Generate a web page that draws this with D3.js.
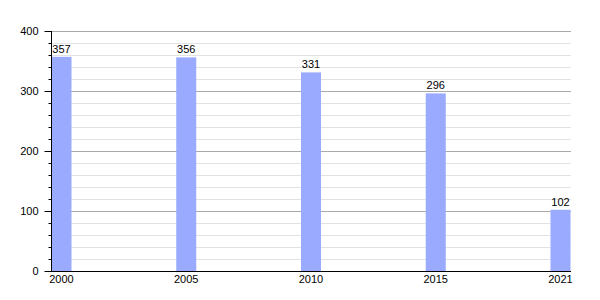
<!DOCTYPE html>
<html><head><meta charset="utf-8">
<script src="https://cdn.jsdelivr.net/npm/d3@7"></script>
<style>body{margin:0;background:#fff}svg{display:block}</style>
</head><body>
<svg id="c" width="600" height="300"></svg>
<script>
const years = ["2000","2005","2010","2015","2021"];
const values = [357,356,331,296,102];
const yTicks = [0,100,200,300,400];
const minorTicks = d3.range(0,401,20);

(function(){
const svg = d3.select("#c");
const font = "Liberation Sans, Arial, sans-serif";
const pl = 51, pr = 571, pt = 31, pb = 271;
const y = d3.scaleLinear().domain([0,400]).range([pb, pt]);
const x = d3.scalePoint().domain(years).range([61.5, 560.5]);
const bw = 20;

// minor gridlines
svg.append("g").selectAll("line").data(minorTicks.filter(d=>d%100!==0)).join("line")
  .attr("x1", pl).attr("x2", pr)
  .attr("y1", d=>Math.round(y(d))+0.5).attr("y2", d=>Math.round(y(d))+0.5)
  .attr("stroke", "#e2e2e2").attr("stroke-width",1);
// major gridlines
svg.append("g").selectAll("line").data(yTicks.filter(d=>d>0)).join("line")
  .attr("x1", pl).attr("x2", pr)
  .attr("y1", d=>Math.round(y(d))+0.5).attr("y2", d=>Math.round(y(d))+0.5)
  .attr("stroke", "#aaaaaa").attr("stroke-width",1);

// bars
svg.append("g").selectAll("rect").data(values).join("rect")
  .attr("x", (d,i)=>x(years[i]) - bw/2)
  .attr("y", d=>y(d))
  .attr("width", bw)
  .attr("height", d=>pb - y(d))
  .attr("fill", "#99aaff");

// value labels
svg.append("g").selectAll("text").data(values).join("text")
  .attr("x", (d,i)=>x(years[i]))
  .attr("y", d=>y(d) - 4)
  .attr("text-anchor","middle")
  .attr("font-family", font).attr("font-size", 11).attr("fill","#000")
  .text(d=>d);

// y axis
const ya = svg.append("g").attr("transform", `translate(${pl+0.5},0)`);
ya.append("line").attr("x1",0).attr("x2",0).attr("y1",pt).attr("y2",pb).attr("stroke","#000");
ya.selectAll("line.minor").data(minorTicks).join("line").attr("class","minor")
  .attr("x1",-3).attr("x2",0)
  .attr("y1", d=>Math.round(y(d))+0.5).attr("y2", d=>Math.round(y(d))+0.5).attr("stroke","#000");
ya.selectAll("line.major").data(yTicks).join("line").attr("class","major")
  .attr("x1",-7).attr("x2",0)
  .attr("y1", d=>Math.round(y(d))+0.5).attr("y2", d=>Math.round(y(d))+0.5).attr("stroke","#000");
ya.selectAll("text").data(yTicks).join("text")
  .attr("x", -13).attr("y", d=>y(d)+4)
  .attr("text-anchor","end")
  .attr("font-family", font).attr("font-size", 11).attr("fill","#000")
  .text(d=>d);

// x axis
svg.append("line").attr("x1",45).attr("x2",pr).attr("y1",pb+0.5).attr("y2",pb+0.5).attr("stroke","#000");
svg.append("g").selectAll("text").data(years).join("text")
  .attr("x", d=>x(d)).attr("y", pb+12)
  .attr("text-anchor","middle")
  .attr("font-family", font).attr("font-size", 11).attr("fill","#000")
  .text(d=>d);
})();
</script>
</body></html>
